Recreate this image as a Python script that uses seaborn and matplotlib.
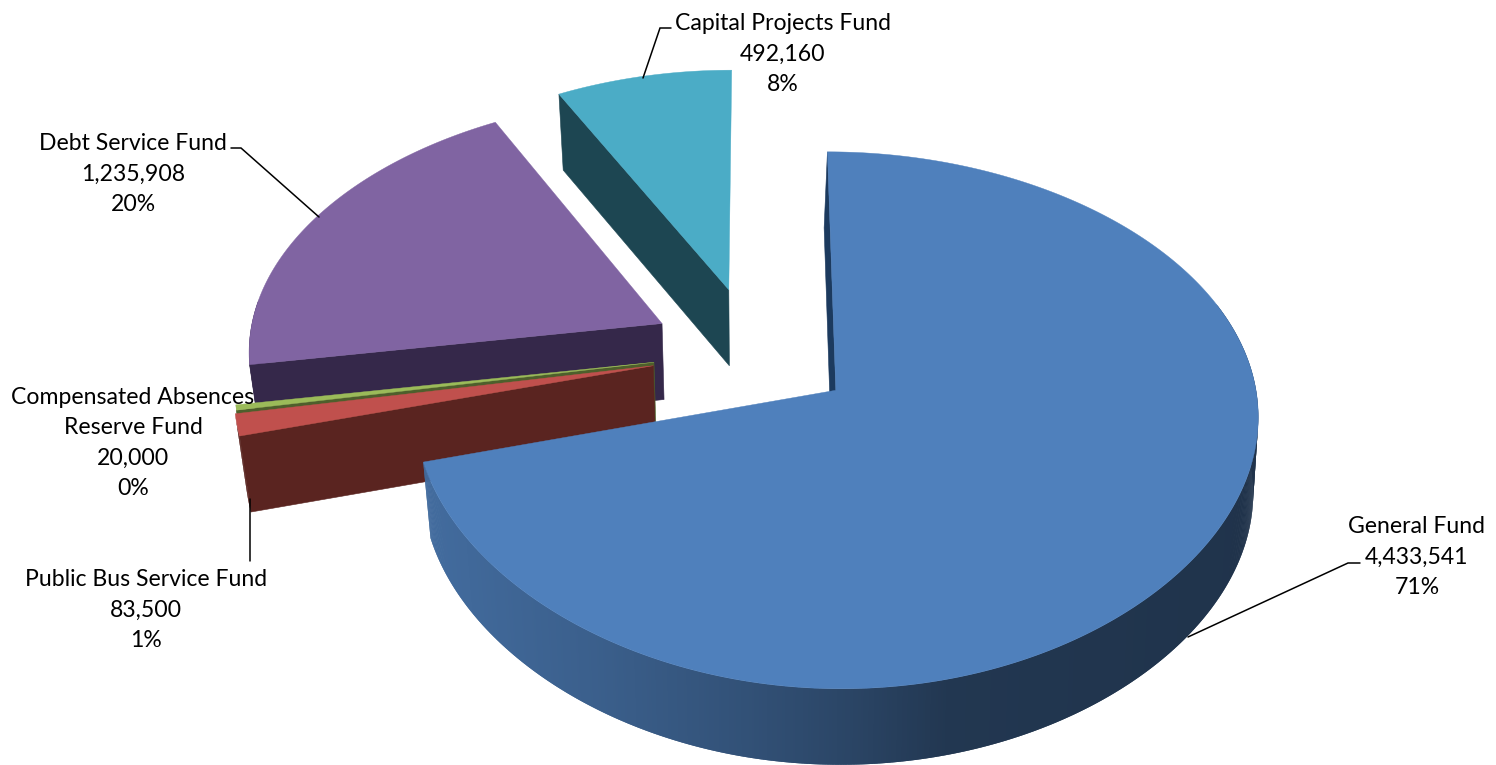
import numpy as np
import matplotlib
matplotlib.use("Agg")
import matplotlib.pyplot as plt
import seaborn as sns

# Fund balances, clockwise from twelve o'clock
funds = ["General Fund", "Public Bus Service Fund", "Compensated Absences\nReserve Fund",
         "Debt Service Fund", "Capital Projects Fund"]
amounts = [4433541, 83500, 20000, 1235908, 492160]
explode = [0.245, 0.248, 0.244, 0.25, 0.255]

top_colors = ["#4F80BC", "#C0504D", "#9BBB59", "#8064A2", "#4BACC6"]
cut_colors = ["#1C3A5E", "#5A2420", "#4E5F2C", "#35284A", "#1D4652"]

# Label centres and leader paths in figure pixels
label_xy = [(1417, 557), (146, 610), (133, 443), (133, 174), (783, 54)]
leaders = [[(1188, 637), (1348, 563), (1360, 563)],
           [(249.7, 499), (249.7, 561)],
           None,
           [(319, 217), (241, 148), (231, 148)],
           [(643, 78), (660, 28), (671, 28)]]

# Camera of the tilted disc
CX, CY = 754.0, 351.5
F, G = 414.5, 256.5
KX_LIN, KX_QUAD, KY = 0.095, 0.025, 0.11
DEPTH = 76.0
INSET_LEFT, INSET_RIGHT, INSET_CUT = 0.022, 0.01, 0.045


def project(X, Y, lower=False, inset=None):
    Y = np.asarray(Y, dtype=float)
    x = CX + F * X / (1 + KX_LIN * Y + KX_QUAD * Y ** 2)
    y = CY - G * Y / (1 + KY * Y)
    if lower:
        pull = np.where(x < CX, INSET_LEFT, INSET_RIGHT) if inset is None else inset
        x = CX + (x - CX) * (1 - pull)
        y = y + DEPTH
    return x, y


def wall_shade(x):
    # Side wall of the large slice darkens from left to right
    return np.interp(x, [425, 600, 750, 850, 950, 1250], [0.84, 0.74, 0.63, 0.54, 0.43, 0.40])


sns.set_theme(style="white")
plt.rcParams["font.family"] = ["Lato", "DejaVu Sans"]
palette = sns.color_palette(top_colors)
cut_palette = sns.color_palette(cut_colors)

fig, ax = plt.subplots(figsize=(14.96, 7.65), dpi=100)
fig.subplots_adjust(0, 0, 1, 1)
ax.set_xlim(0, 1496)
ax.set_ylim(765, 0)
ax.axis("off")

total = sum(amounts)
fractions = np.array(amounts) / total
ends = np.cumsum(fractions) * 360.0
starts = ends - fractions * 360.0

# Back slices first so the nearer ones cover them
for i in [4, 3, 2, 1, 0]:
    mid = np.radians((starts[i] + ends[i]) / 2)
    ox, oy = explode[i] * np.sin(mid), explode[i] * np.cos(mid)
    theta = np.radians(np.linspace(starts[i], ends[i], max(int(ends[i] - starts[i]) * 3, 6)))
    X, Y = ox + np.sin(theta), oy + np.cos(theta)

    # curved outer wall, only on the side facing the viewer
    xt, yt = project(X, Y)
    xb, yb = project(X, Y, lower=True)
    deg = np.degrees(theta)
    for j in range(len(theta) - 1):
        if 70 <= deg[j] <= 275:
            if i == 0:
                shade = float(wall_shade((xt[j] + xt[j + 1]) / 2))
                c = tuple(v * shade for v in palette[i])
            else:
                c = cut_palette[i]
            # each strip overlaps the next one to hide seams
            k = min(j + 2, len(theta) - 1)
            ax.fill([xt[j], xt[k], xb[k], xb[j]],
                    [yt[j], yt[k], yb[k], yb[j]],
                    color=c, lw=0, zorder=1)

    # flat cut wall along the leading edge of the slice
    cut_inset = INSET_CUT if i == 0 else None
    ax0, ay0 = project(ox, oy)
    ax1, ay1 = project(ox, oy, lower=True, inset=cut_inset)
    cx1, cy1 = project(X[0], Y[0], lower=True, inset=cut_inset)
    ax.fill([ax0, xt[0], cx1, ax1], [ay0, yt[0], cy1, ay1],
            color=cut_palette[i], lw=0.4, zorder=1)

    # top face
    ax.fill(np.r_[ax0, xt], np.r_[ay0, yt], color=palette[i], lw=0.3, zorder=1)

for name, amount, frac, (lx, ly), path in zip(funds, amounts, fractions, label_xy, leaders):
    ax.text(lx, ly, f"{name}\n{amount:,}\n{frac * 100:.0f}%", ha="center", va="center",
            multialignment="center", fontsize=16.6, color="black", linespacing=1.53, zorder=4)
    if path is not None:
        ax.plot(*zip(*path), color="black", lw=1.1, zorder=3, solid_joinstyle="miter")

fig.savefig("out.png", dpi=100, facecolor="white")
